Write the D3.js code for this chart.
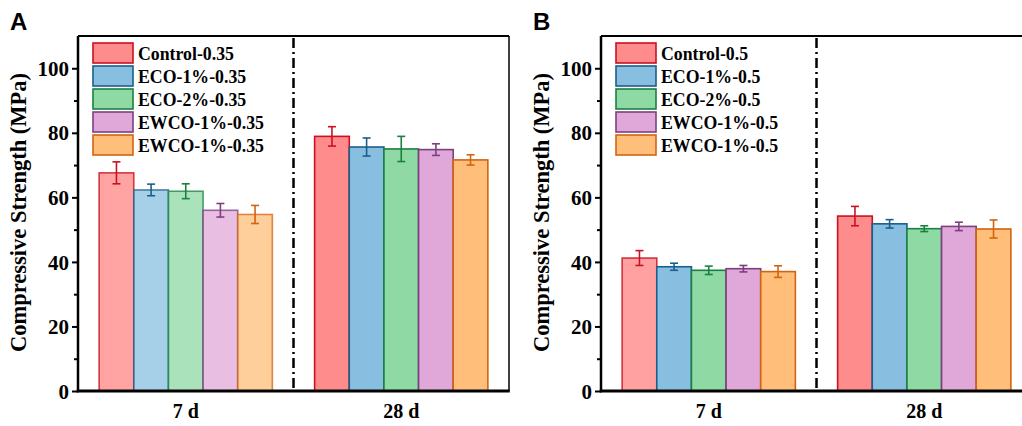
<!DOCTYPE html>
<html>
<head>
<meta charset="utf-8">
<script src="https://cdn.jsdelivr.net/npm/d3@7"></script>
<style>
  body { margin: 0; background: #fff; }
  svg text { font-family: 'Times New Roman', 'Liberation Serif', serif; font-weight: bold; fill: #000; }
</style>
</head>
<body>
<svg width="1022" height="426"></svg>
<script>
// categories
var periods = ['7 d', '28 d']
var seriesA = ['Control-0.35', 'ECO-1%-0.35', 'ECO-2%-0.35', 'EWCO-1%-0.35', 'EWCO-1%-0.35']
var seriesB = ['Control-0.5', 'ECO-1%-0.5', 'ECO-2%-0.5', 'EWCO-1%-0.5', 'EWCO-1%-0.5']

// values, one array per period (series order as above)
var meanA7 = [67.6, 62.3, 61.9, 56.0, 54.7]
var errA7 = [3.4, 1.8, 2.3, 2.1, 2.8]
var meanA28 = [78.9, 75.6, 75.0, 74.8, 71.6]
var errA28 = [3.0, 2.8, 3.9, 1.8, 1.6]
var meanB7 = [41.2, 38.5, 37.4, 37.9, 37.0]
var errB7 = [2.3, 1.1, 1.3, 1.0, 1.8]
var meanB28 = [54.2, 51.8, 50.3, 51.0, 50.2]
var errB28 = [3.0, 1.3, 0.9, 1.3, 2.8]

var yTicks = [0, 20, 40, 60, 80, 100]
var yMinor = [10, 30, 50, 70, 90]

var fills = ['#ff8c8c', '#88bfe0', '#8ed9a4', '#e0a8d8', '#ffbf7a']
var strokes = ['#cc1020', '#1a5f8c', '#1b8040', '#7d3f80', '#d2640f']

var svg = d3.select('svg')

var panels = [
  {label: 'A', left: 78, series: seriesA, means: [meanA7, meanA28], errs: [errA7, errA28], fade: [[0.8, 0.75, 0.75, 0.75, 0.75], [1, 1, 1, 1, 1]]},
  {label: 'B', left: 601, series: seriesB, means: [meanB7, meanB28], errs: [errB7, errB28], fade: [[0.82, 1, 1, 1, 1], [1, 1, 1, 1, 1]]}
]

var yTop = 36, yBottom = 391, pw = 431
var serif = "'Times New Roman', 'Liberation Serif', serif"

panels.forEach(function (p) {
  var g = svg.append('g').attr('transform', 'translate(' + p.left + ',0)')

  var y = d3.scaleLinear().domain([0, 110]).range([yBottom, yTop])
  var x0 = d3.scaleBand().domain(periods).range([0, pw])
  var x1 = d3.scaleBand().domain(d3.range(5)).range([0, x0.bandwidth()]).paddingInner(0).paddingOuter(0.61)

  // bars
  periods.forEach(function (per, pi) {
    var gg = g.append('g').attr('transform', 'translate(' + x0(per) + ',0)')
    var rows = p.means[pi].map(function (v, i) { return {i: i, v: v, e: p.errs[pi][i], o: p.fade[pi][i]} })

    gg.selectAll('rect').data(rows).enter().append('rect')
      .attr('x', function (d) { return x1(d.i) })
      .attr('y', function (d) { return y(d.v) })
      .attr('width', x1.bandwidth())
      .attr('height', function (d) { return y(0) - y(d.v) })
      .attr('fill', function (d) { return fills[d.i] })
      .attr('fill-opacity', function (d) { return d.o })
      .attr('stroke', function (d) { return strokes[d.i] })
      .attr('stroke-opacity', function (d) { return d.o })
      .attr('stroke-width', 1.6)

    var eb = gg.selectAll('.err').data(rows).enter().append('g')
      .attr('class', 'err')
      .attr('stroke', function (d) { return strokes[d.i] })
      .attr('stroke-width', 1.6)
    eb.append('line')
      .attr('x1', function (d) { return x1(d.i) + x1.bandwidth() / 2 })
      .attr('x2', function (d) { return x1(d.i) + x1.bandwidth() / 2 })
      .attr('y1', function (d) { return y(d.v + d.e) })
      .attr('y2', function (d) { return y(d.v - d.e) })
    ;[1, -1].forEach(function (s) {
      eb.append('line')
        .attr('x1', function (d) { return x1(d.i) + x1.bandwidth() / 2 - 4 })
        .attr('x2', function (d) { return x1(d.i) + x1.bandwidth() / 2 + 4 })
        .attr('y1', function (d) { return y(d.v + s * d.e) })
        .attr('y2', function (d) { return y(d.v + s * d.e) })
    })
  })

  // divider
  g.append('line')
    .attr('x1', pw / 2).attr('x2', pw / 2)
    .attr('y1', yTop + 2).attr('y2', yBottom)
    .attr('stroke', '#000')
    .attr('stroke-width', 2.5)
    .attr('stroke-dasharray', '10,4,2,4')

  // frame
  g.append('line').attr('x1', 0).attr('x2', pw).attr('y1', yTop).attr('y2', yTop)
    .attr('stroke', '#000').attr('stroke-width', 2)
  g.append('line').attr('x1', pw).attr('x2', pw).attr('y1', yTop).attr('y2', yBottom)
    .attr('stroke', '#000').attr('stroke-width', 1.5)

  // y axis
  var yAxis = d3.axisLeft(y).tickValues(yTicks).tickSize(6).tickPadding(3)
  var ya = g.append('g').call(yAxis).attr('font-family', serif)
  ya.select('.domain').attr('stroke-width', 2.5).attr('d', 'M0,' + yTop + 'V' + (yBottom + 1.25))
  ya.selectAll('.tick line').attr('stroke-width', 2)
  ya.selectAll('.tick text').attr('font-size', 21).attr('dy', '0.34em')
  g.append('g').call(d3.axisLeft(y).tickValues(yMinor).tickSize(4).tickFormat(''))
    .call(function (s) { s.select('.domain').remove(); s.selectAll('.tick line').attr('stroke-width', 2) })

  // x axis
  var xa = g.append('g').attr('transform', 'translate(0,' + yBottom + ')')
    .call(d3.axisBottom(x0).tickSize(0).tickPadding(13)).attr('font-family', serif)
  xa.select('.domain').attr('stroke-width', 3).attr('d', 'M-1.25,0H' + (pw + 0.75))
  xa.selectAll('.tick text').attr('font-size', 20)

  // y title
  g.append('text')
    .attr('transform', 'translate(-52,' + ((yTop + yBottom) / 2 - 1) + ') rotate(-90)')
    .attr('text-anchor', 'middle')
    .attr('font-size', 22.5)
    .text('Compressive Strength (MPa)')

  // panel letter
  svg.append('text')
    .attr('x', p.left - 68).attr('y', 30)
    .style('font-family', "'Liberation Sans', Arial, sans-serif")
    .attr('font-size', 24)
    .text(p.label)

  // legend
  var lg = g.append('g').attr('transform', 'translate(15,43)')
  var items = lg.selectAll('g').data(p.series).enter().append('g')
    .attr('transform', function (d, i) { return 'translate(0,' + (i * 23) + ')' })
  items.append('rect')
    .attr('width', 40).attr('height', 20)
    .attr('fill', function (d, i) { return fills[i] })
    .attr('stroke', function (d, i) { return strokes[i] })
    .attr('stroke-width', 1.6)
  items.append('text')
    .attr('x', 45).attr('y', 16.5)
    .attr('font-size', 17.8)
    .text(function (d) { return d })
})
</script>
</body>
</html>
